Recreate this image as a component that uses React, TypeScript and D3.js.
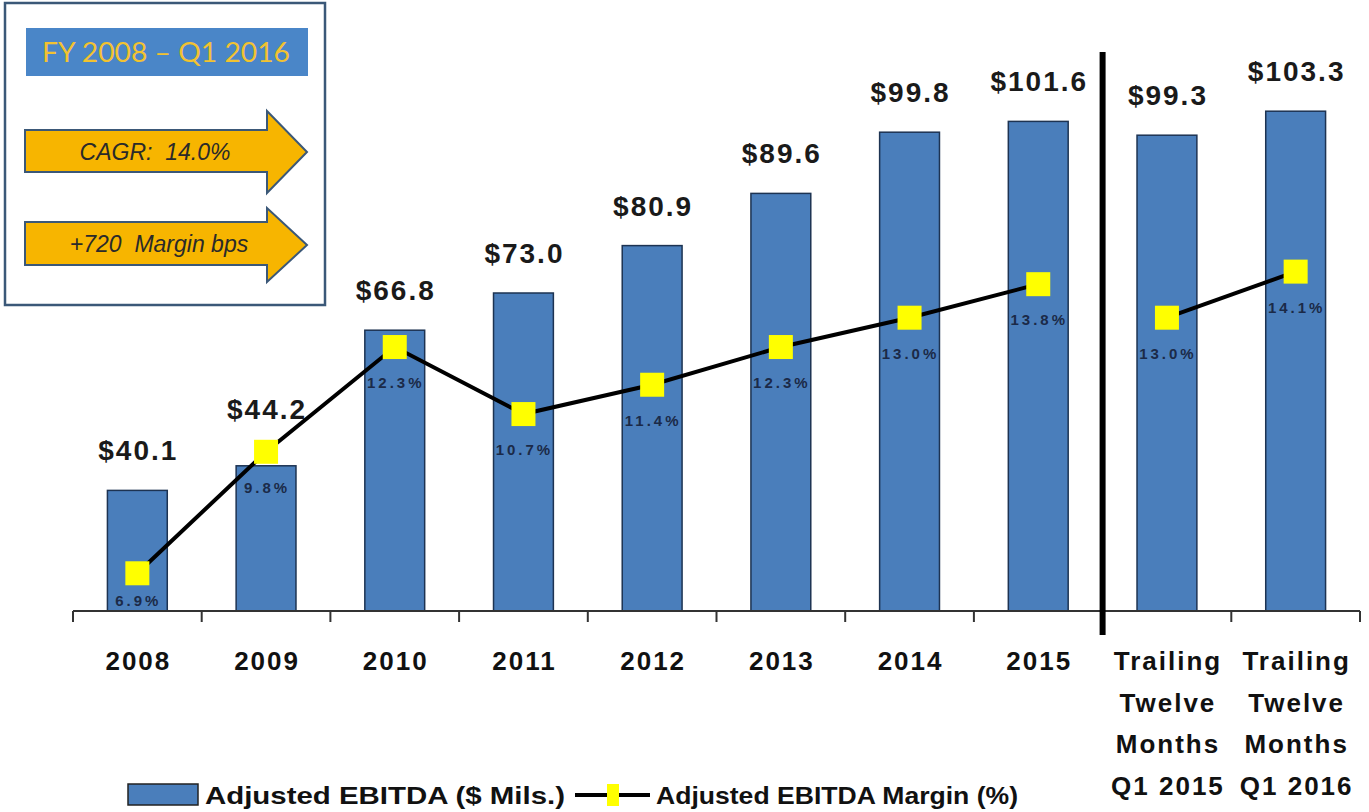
import React from 'react';
import * as d3 from 'd3';

// categories and values
const categories = ['2008', '2009', '2010', '2011', '2012', '2013', '2014', '2015', 'TTM Q1 2015', 'TTM Q1 2016'];
const categoryLines = [
  ['2008'], ['2009'], ['2010'], ['2011'], ['2012'], ['2013'], ['2014'], ['2015'],
  ['Trailing', 'Twelve', 'Months', 'Q1 2015'],
  ['Trailing', 'Twelve', 'Months', 'Q1 2016'],
];
const ebitda = [40.1, 44.2, 66.8, 73.0, 80.9, 89.6, 99.8, 101.6, 99.3, 103.3];
const margin = [6.9, 9.8, 12.3, 10.7, 11.4, 12.3, 13.0, 13.8, 13.0, 14.1];
// the line is broken between FY 2015 and the trailing twelve months
const lineGroups = [[0, 1, 2, 3, 4, 5, 6, 7], [8, 9]];

const W = 1369;
const H = 812;
const BASE = 611;
const BAR_FILL = '#4a7ebb';
const BAR_STROKE = '#1d3352';
const FONT = '"Liberation Sans", Arial, sans-serif';

const App = () => {
  // x: one band per category, bars ~60px in a ~129px slot
  const x = d3.scaleBand<string>()
    .domain(categories)
    .range([73, 1360])
    .paddingInner(0.535)
    .paddingOuter(0.2675);
  const bw = x.bandwidth();
  const step = x.step();
  const cx = (i: number) => (x(categories[i]) as number) + bw / 2;

  // primary axis for $ (does not start at zero), secondary for margin %
  const y = d3.scaleLinear().domain([20, 120]).range([BASE, BASE - 600]);
  const y2 = d3.scaleLinear().domain([6, 16]).range([BASE, BASE - 419]);

  const boundaries = categories.map((c) => (x(c) as number) + bw / 2 - step / 2);
  boundaries.push(1360);

  const line = d3.line<number>().x((i) => cx(i)).y((i) => y2(margin[i]));

  const sepX = boundaries[8];

  return (
    <svg width={W} height={H} style={{ position: 'absolute', left: 0, top: 0, background: '#fff' }}>
      {/* bars */}
      {ebitda.map((v, i) => (
        <rect key={'b' + i} x={x(categories[i])} y={y(v)} width={bw} height={BASE - y(v)}
          fill={BAR_FILL} stroke={BAR_STROKE} strokeWidth={1.5} />
      ))}

      {/* value labels, lifted above the marker when they would collide */}
      {ebitda.map((v, i) => (
        <text key={'v' + i} x={cx(i) + 1} y={Math.min(y(v) - 30, y2(margin[i]) - 33)} textAnchor="middle"
          fontFamily={FONT} fontWeight="bold" fontSize={28} fill="#1a1a1a"
          style={{ letterSpacing: '2px' }}>
          {'$' + v.toFixed(1)}
        </text>
      ))}

      {/* axis */}
      <line x1={73} x2={1360} y1={BASE} y2={BASE} stroke="#333" strokeWidth={2} />
      {boundaries.map((b, i) => (
        <line key={'t' + i} x1={b} x2={b} y1={BASE} y2={BASE + 11} stroke="#333" strokeWidth={2} />
      ))}

      {/* category labels */}
      {categoryLines.map((lines, i) => (
        <text key={'c' + i} textAnchor="middle" fontFamily={FONT} fontWeight="bold" fontSize={26}
          fill="#111" style={{ letterSpacing: '2px' }}>
          {lines.map((t, j) => (
            <tspan key={j} x={cx(i) + 1} y={670 + j * 41.5}>{t}</tspan>
          ))}
        </text>
      ))}

      {/* margin line */}
      {lineGroups.map((g, k) => (
        <path key={'l' + k} d={line(g) as string} fill="none" stroke="#000" strokeWidth={4} />
      ))}
      {margin.map((m, i) => (
        <rect key={'m' + i} x={cx(i) - 12} y={y2(m) - 12} width={24} height={24} fill="#ffff00" />
      ))}
      {margin.map((m, i) => (
        <text key={'p' + i} x={cx(i) + 1} y={Math.min(y2(m) + 41, BASE - 5)} textAnchor="middle"
          fontFamily={FONT} fontWeight="bold" fontSize={15} fill="#1b2a48"
          style={{ letterSpacing: '3px' }}>
          {m.toFixed(1) + '%'}
        </text>
      ))}

      {/* separator between fiscal years and trailing twelve months */}
      <line x1={sepX} x2={sepX} y1={52} y2={635} stroke="#000" strokeWidth={6} />

      {/* summary box */}
      <rect x={5} y={3} width={320} height={302} fill="#fff" stroke="#3b5878" strokeWidth={2.5} />
      <rect x={26} y={28} width={282} height={48} fill="#4a86c8" />
      <text x={166} y={62} textAnchor="middle" fontFamily="Lato, sans-serif" fontSize={27}
        fill="#f2c230" textLength={248} lengthAdjust="spacingAndGlyphs">
        FY 2008 – Q1 2016
      </text>
      <path d="M25,130 L267,130 L267,111 L307,152 L267,193 L267,172 L25,172 Z"
        fill="#f7b500" stroke="#3b5878" strokeWidth={2} />
      <text x={155} y={160} textAnchor="middle" fontFamily={FONT} fontStyle="italic" fontSize={23}
        fill="#2a2a2a" style={{ whiteSpace: 'pre' }}>
        CAGR:  14.0%
      </text>
      <path d="M25,222 L267,222 L267,208 L307,245 L267,282 L267,265 L25,265 Z"
        fill="#f7b500" stroke="#3b5878" strokeWidth={2} />
      <text x={159} y={252} textAnchor="middle" fontFamily={FONT} fontStyle="italic" fontSize={23}
        fill="#2a2a2a" style={{ whiteSpace: 'pre' }}>
        +720  Margin bps
      </text>

      {/* legend */}
      <rect x={128} y={784} width={70} height={21} fill={BAR_FILL} stroke="#222" strokeWidth={1.5} />
      <text x={205} y={804} fontFamily={FONT} fontWeight="bold" fontSize={24} fill="#111"
        textLength={360} lengthAdjust="spacingAndGlyphs">
        Adjusted EBITDA ($ Mils.)
      </text>
      <line x1={575} x2={650} y1={795} y2={795} stroke="#000" strokeWidth={4} />
      <rect x={607} y={784} width={12} height={22} fill="#ffff00" />
      <text x={656} y={804} fontFamily={FONT} fontWeight="bold" fontSize={24} fill="#111"
        textLength={362} lengthAdjust="spacingAndGlyphs">
        Adjusted EBITDA Margin (%)
      </text>
    </svg>
  );
};

export default App;
